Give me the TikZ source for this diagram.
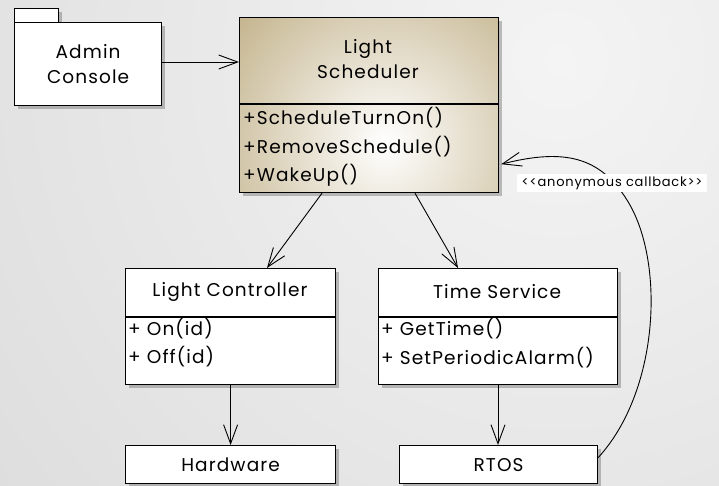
\documentclass[tikz,border=0pt]{standalone}
\usepackage{fontspec}
\setmainfont{Poppins}[LetterSpace=6]
\usetikzlibrary{arrows.meta,shadows,calc}

\definecolor{tanedge}{RGB}{184,165,118}
\definecolor{bglight}{RGB}{244,244,244}
\definecolor{bgdark}{RGB}{216,216,216}

\tikzset{
  every node/.style={font=\fontsize{18.5}{21}\selectfont},
  umlbox/.style={draw=black, line width=1.2pt, fill=white, rectangle, inner sep=0pt,
    anchor=north west, drop shadow={shadow xshift=3pt, shadow yshift=-3pt, opacity=0.5}},
  title/.style={anchor=center, align=center},
  member/.style={anchor=west, inner sep=0pt},
  dep/.style={line width=0.9pt, -{Straight Barb[length=19pt,width=14pt,line width=0.9pt]}},
  divider/.style={line width=1.2pt},
  note/.style={fill=white, inner xsep=5pt, inner ysep=3pt, font=\fontsize{13}{15}\selectfont}
}

\begin{document}
\begin{tikzpicture}[x=1pt, y=-1pt]
  % canvas
  \useasboundingbox (0,0) rectangle (719,485);
  \begin{scope}
    \clip (0,0) rectangle (719,485);
    \fill[bgdark] (0,0) rectangle (719,485);
    \shade[inner color=bglight, outer color=bgdark] (560,60) circle (900pt);
  \end{scope}

  % Admin Console package
  \node[umlbox, minimum width=44pt, minimum height=15pt] (admintab) at (14,8) {};
  \node[umlbox, minimum width=147pt, minimum height=83pt] (admin) at (14,22) {};
  \node[title] (admintxt) at (admin.center) {Admin\\[4pt]Console};

  % Light Scheduler class
  \node[umlbox, minimum width=259pt, minimum height=175pt,
    path picture={\shade[inner color=white, outer color=tanedge]
      ([xshift=16pt, yshift=-38pt]path picture bounding box.center) circle (235pt);}]
    (sched) at (239,17) {};
  \draw[divider] (sched.west |- 0,104) -- (sched.east |- 0,104);
  \node[title] (schedtitle) at (368,59) {Light\\[4pt]Scheduler};
  \node[member] (m1) at (243,118) {+ScheduleTurnOn()};
  \node[member] (m2) at (243,147) {+RemoveSchedule()};
  \node[member] (m3) at (243,175) {+WakeUp()};

  % Light Controller class
  \node[umlbox, minimum width=210pt, minimum height=116pt] (lc) at (125,268) {};
  \draw[divider] (lc.west |- 0,317) -- (lc.east |- 0,317);
  \node[title] (lctitle) at (230,292) {Light Controller};
  \node[member] (lc1) at (128,329) {+ On(id)};
  \node[member] (lc2) at (128,357) {+ Off(id)};

  % Time Service class
  \node[umlbox, minimum width=239pt, minimum height=116pt] (ts) at (378,268) {};
  \draw[divider] (ts.west |- 0,317) -- (ts.east |- 0,317);
  \node[title] (tstitle) at (497,292) {Time Service};
  \node[member] (ts1) at (381,329) {+ GetTime()};
  \node[member] (ts2) at (381,358) {+ SetPeriodicAlarm()};

  % Hardware and RTOS
  \node[umlbox, minimum width=210pt, minimum height=38pt] (hw) at (125,445) {};
  \node[title] (hwtxt) at (hw.center) {Hardware};
  \node[umlbox, minimum width=198pt, minimum height=38pt] (rtos) at (399,445) {};
  \node[title] (rtostxt) at (rtos.center) {RTOS};

  % dependencies
  \draw[dep] (admin.east |- 0,62) -- (sched.west |- 0,62);
  \draw[dep] ($(sched.south west)+(83,0)$) -- ($(lc.north west)+(142,0)$);
  \draw[dep] ($(sched.south west)+(176,0)$) -- ($(ts.north west)+(80,0)$);
  \draw[dep] (lc.south) -- (hw.north);
  \draw[dep] ($(ts.south west)+(120,0)$) -- ($(rtos.north west)+(99,0)$);

  % callback from RTOS back to the scheduler
  \coordinate (cbtop) at (627,200);
  \draw[dep] ($(rtos.east)+(0,-7)$) .. controls (660,390) and (665,260) .. (cbtop)
    .. controls (600,157) and (565,148) .. ($(sched.south east)+(2,-29)$);
  \node[note] (cblabel) at (612,183) {<{}<anonymous callback>{}>};
\end{tikzpicture}
\end{document}
